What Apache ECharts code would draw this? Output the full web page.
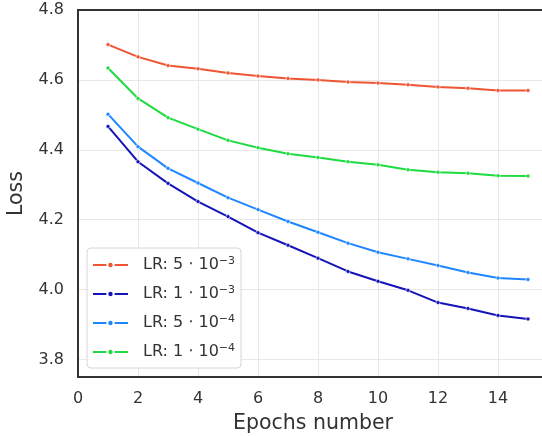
<!DOCTYPE html>
<html>
<head>
<meta charset="utf-8">
<script src="https://cdn.jsdelivr.net/npm/echarts@6/dist/echarts.min.js"></script>
<style>
html,body{margin:0;padding:0;background:#fff;}
#chart{width:542px;height:436px;}
</style>
</head>
<body>
<div id="chart"></div>
<script>
const epochs = [1,2,3,4,5,6,7,8,9,10,11,12,13,14,15];
const lr5e3 = [4.701,4.666,4.641,4.632,4.620,4.611,4.604,4.600,4.594,4.591,4.586,4.580,4.576,4.570,4.570];
const lr1e3 = [4.467,4.366,4.304,4.252,4.209,4.163,4.127,4.090,4.052,4.024,3.998,3.963,3.946,3.926,3.916];
const lr5e4 = [4.502,4.409,4.347,4.305,4.263,4.229,4.195,4.164,4.133,4.107,4.088,4.069,4.049,4.033,4.029];
const lr1e4 = [4.634,4.547,4.492,4.459,4.427,4.406,4.389,4.378,4.366,4.357,4.343,4.336,4.333,4.326,4.325];
const seriesNames = ['LR: 5e-3','LR: 1e-3','LR: 5e-4','LR: 1e-4'];
const legendLabels = ['LR: 5 \u22c5 10{sup|\u22123}','LR: 1 \u22c5 10{sup|\u22123}','LR: 5 \u22c5 10{sup|\u22124}','LR: 1 \u22c5 10{sup|\u22124}'];
const colors = ['#ef5433','#1313b8','#1e86ff','#1ddb40'];
const yTicks = [3.8,4.0,4.2,4.4,4.6,4.8];
const xTicks = [0,2,4,6,8,10,12,14];

const allData = [lr5e3, lr1e3, lr5e4, lr1e4];
const FONT = 'DejaVu Sans';

const chart = echarts.init(document.getElementById('chart'), null, {renderer:'canvas'});
chart.setOption({
  backgroundColor:'#fff',
  animation:false,
  grid:{left:78, top:10, right:-16, bottom:59, outerBoundsMode:'none', containLabel:false,
    show:true, borderColor:'#333', borderWidth:2, backgroundColor:'#fff'},
  xAxis:[{
    type:'value', min:0, max:16, interval:2,
    name:'Epochs number', nameLocation:'middle', nameGap:36,
    nameTextStyle:{fontFamily:FONT, fontSize:20.5, color:'#333', verticalAlign:'top', padding:[0,10,0,0]},
    axisLine:{show:true, lineStyle:{color:'#333', width:2}},
    axisTick:{show:false},
    axisLabel:{fontFamily:FONT, fontSize:16, color:'#333', margin:14,
      formatter:v=> xTicks.includes(v) ? String(v) : ''},
    splitLine:{show:true, lineStyle:{color:'#e8e8e8', width:1}}
  },{
    type:'value', min:0, max:16, interval:2, position:'top',
    axisLine:{show:true, onZero:false, lineStyle:{color:'#333', width:2}},
    axisTick:{show:false}, axisLabel:{show:false}, splitLine:{show:false}
  }],
  yAxis:{
    type:'value', min:3.75, max:4.8,
    name:'Loss', nameLocation:'middle', nameGap:41,
    nameTextStyle:{fontFamily:FONT, fontSize:20.5, color:'#333'},
    axisLine:{show:true, lineStyle:{color:'#333', width:2}},
    axisTick:{show:false, customValues:yTicks},
    axisLabel:{fontFamily:FONT, fontSize:16, color:'#333', margin:14, customValues:yTicks,
      formatter:v=>Number(v).toFixed(1)},
    splitLine:{show:true, lineStyle:{color:'#e8e8e8', width:1}}
  },
  legend:{
    orient:'vertical', left:87, top:248,
    data:seriesNames,
    itemWidth:35, itemHeight:8, itemGap:11,
    padding:[8,6,7,5],
    backgroundColor:'rgba(255,255,255,0.9)',
    borderColor:'#d6d6d6', borderWidth:1, borderRadius:4,
    formatter:name=> legendLabels[seriesNames.indexOf(name)],
    textStyle:{fontFamily:FONT, fontSize:16, lineHeight:18, color:'#333', padding:[0,0,0,10],
      rich:{sup:{fontFamily:FONT, fontSize:11, lineHeight:18, color:'#333', verticalAlign:'top', padding:[0,0,7,0]}}}
  },
  series: allData.map((arr,i)=>({
    name:seriesNames[i], type:'line', xAxisIndex:0,
    data: epochs.map((e,j)=>[e, arr[j]]),
    symbol:'circle', symbolSize:4, showSymbol:true,
    lineStyle:{color:colors[i], width:2},
    itemStyle:{color:colors[i], borderColor:'#fff', borderWidth:0.6},
    emphasis:{disabled:true}
  }))
});
</script>
</body>
</html>
